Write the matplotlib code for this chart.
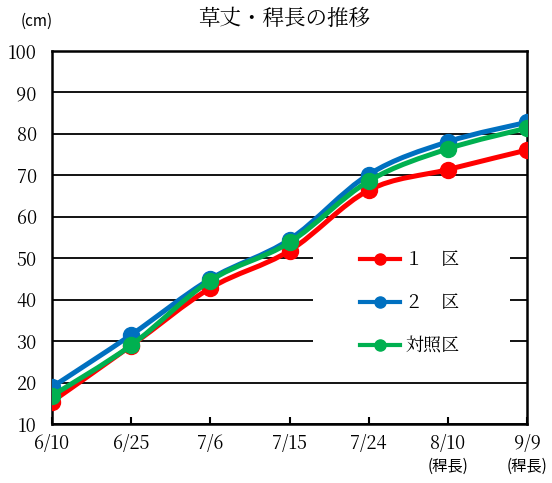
import matplotlib.pyplot as plt
from matplotlib.path import Path
from matplotlib.patches import PathPatch, Rectangle
from matplotlib.lines import Line2D
from matplotlib.transforms import blended_transform_factory

SERIF = ['Noto Serif CJK JP', 'Liberation Serif', 'DejaVu Serif']
SANS = ['Noto Sans CJK JP', 'DejaVu Sans']
plt.rcParams['font.family'] = SERIF

dates = ['6/10', '6/25', '7/6', '7/15', '7/24', '8/10', '9/9']
stem_note = ['', '', '', '', '', '(稈長)', '(稈長)']
plot1 = [15.4, 28.9, 42.8, 51.8, 66.4, 71.4, 76.1]
plot2 = [18.9, 31.5, 45.0, 54.5, 70.2, 78.1, 82.8]
control = [16.8, 29.0, 44.6, 53.8, 68.6, 76.4, 81.4]
names = ['１　区', '２　区', '対照区']
colors = ['#FF0000', '#0070C0', '#00B050']


def smooth_path(xs, ys):
    # Catmull-Rom style bezier through every point (smoothed line)
    pts = list(zip(xs, ys))
    verts = [pts[0]]
    codes = [Path.MOVETO]
    n = len(pts)
    for i in range(n - 1):
        p0 = pts[i - 1] if i > 0 else pts[i]
        p1 = pts[i]
        p2 = pts[i + 1]
        p3 = pts[i + 2] if i + 2 < n else pts[i + 1]
        c1 = (p1[0] + (p2[0] - p0[0]) / 6, p1[1] + (p2[1] - p0[1]) / 6)
        c2 = (p2[0] - (p3[0] - p1[0]) / 6, p2[1] - (p3[1] - p1[1]) / 6)
        verts += [c1, c2, p2]
        codes += [Path.CURVE4] * 3
    return Path(verts, codes)


fig = plt.figure(figsize=(5.52, 4.83), dpi=100)
ax = fig.add_axes([52 / 552, 1 - 424 / 483, 475 / 552, 373 / 483])

x = list(range(len(dates)))
for series, c in zip([plot1, plot2, control], colors):
    ax.add_patch(PathPatch(smooth_path(x, series), facecolor='none', edgecolor=c,
                           lw=3.6, zorder=3, capstyle='round', joinstyle='round'))
    ax.plot(x, series, 'o', color=c, ms=11.5, zorder=3)

ax.set_xlim(0, len(dates) - 1)
ax.set_ylim(10, 100)
ax.set_yticks(range(10, 101, 10))
ax.set_xticks(x)
ax.set_xticklabels(dates, fontsize=13)
ax.tick_params(axis='x', direction='in', length=5, width=1.5, pad=7)
ax.tick_params(axis='y', length=0, pad=11, labelsize=13)
ax.yaxis.grid(True, color='black', lw=1.3)
ax.set_axisbelow(True)
for s in ax.spines.values():
    s.set_linewidth(1.8)
    s.set_color('black')

# notes under the last two dates
trans = blended_transform_factory(ax.transData, ax.transAxes)
for i, note in enumerate(stem_note):
    if note:
        ax.text(i, -0.113, note, transform=trans, ha='center', va='center',
                fontsize=11, family=SANS)

# legend area blanks the grid lines behind it
ax.add_patch(Rectangle((261 / 475, (424 - 364) / 373), 197 / 475, 126 / 373,
                       transform=ax.transAxes, facecolor='white', edgecolor='none', zorder=2))
handles = [Line2D([], [], color=c, marker='o', ms=8, lw=3) for c in colors]
ax.legend(handles, names, loc='upper left', bbox_to_anchor=(308 / 475, (424 - 250) / 373),
          frameon=False, handlelength=2.2, handletextpad=0.3,
          labelspacing=1.26, borderpad=0, borderaxespad=0,
          prop={'family': SERIF, 'size': 13})

fig.text(284 / 552, 1 - 19 / 483, '草丈・稈長の推移', ha='center', va='center',
         fontsize=15.5)
fig.text(37 / 552, 1 - 21 / 483, '(cm)', ha='center', va='center',
         fontsize=11, family=SANS)

fig.savefig('out.png', dpi=100)
